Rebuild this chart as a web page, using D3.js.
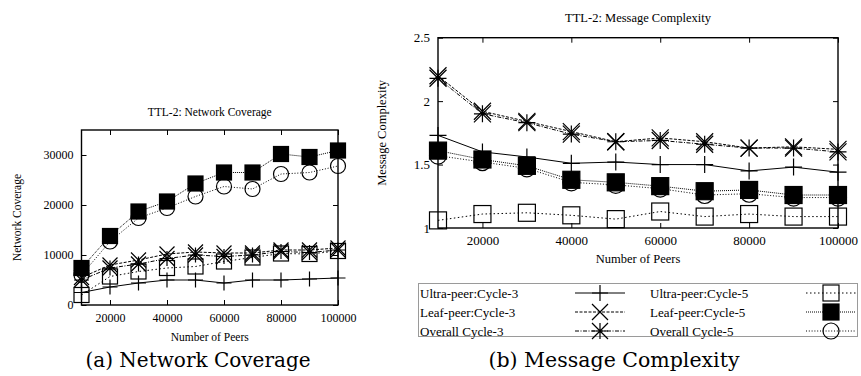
<!DOCTYPE html>
<html lang="en">
  <head>
    <meta charset="UTF-8" />
    <title>TTL-2 Network Coverage / Message Complexity</title>
    <script src="https://d3js.org/d3.v7.min.js"></script>
    <style>
      body {
        margin: 0;
        background: #fff;
      }
      svg text {
        font-family: "Liberation Serif", serif;
        fill: #000;
      }
      .caption {
        font-family: "DejaVu Serif", serif;
      }
    </style>
  </head>
  <body>
    <svg width="861" height="376"></svg>
    <script>
      // number of peers (x axis, both panels)
      const peers = [10000, 20000, 30000, 40000, 50000, 60000, 70000, 80000, 90000, 100000];
      const xTicks = [20000, 40000, 60000, 80000, 100000];

      // (a) network coverage
      const covUltra3 = [2500, 3600, 4400, 5000, 5000, 4400, 5000, 5000, 5200, 5400];
      const covLeaf3 = [5500, 8000, 9000, 10200, 10600, 10400, 10400, 11000, 11000, 11400];
      const covOverall3 = [5000, 7400, 8200, 9300, 10000, 9700, 10000, 10700, 10500, 11000];
      const covUltra5 = [2000, 5700, 6700, 7400, 7700, 8700, 9500, 10300, 10200, 10800];
      const covLeaf5 = [7400, 13800, 18700, 20700, 24300, 26500, 26500, 30200, 29600, 30900];
      const covOverall5 = [6000, 12700, 17400, 19400, 21700, 23700, 23200, 26200, 26500, 27800];
      const covYTicks = [0, 10000, 20000, 30000];

      // (b) message complexity
      const msgUltra3 = [1.73, 1.6, 1.56, 1.51, 1.52, 1.5, 1.5, 1.45, 1.48, 1.44];
      const msgLeaf3 = [2.2, 1.92, 1.84, 1.76, 1.68, 1.71, 1.68, 1.63, 1.64, 1.62];
      const msgOverall3 = [2.18, 1.9, 1.83, 1.74, 1.68, 1.69, 1.66, 1.63, 1.63, 1.6];
      const msgUltra5 = [1.06, 1.11, 1.12, 1.1, 1.07, 1.13, 1.09, 1.11, 1.09, 1.09];
      const msgLeaf5 = [1.61, 1.54, 1.49, 1.38, 1.36, 1.33, 1.29, 1.3, 1.26, 1.26];
      const msgOverall5 = [1.57, 1.52, 1.47, 1.36, 1.34, 1.31, 1.26, 1.27, 1.24, 1.24];
      const msgYTicks = [1, 1.5, 2, 2.5];

      const seriesNames = [
        "Ultra-peer:Cycle-3",
        "Leaf-peer:Cycle-3",
        "Overall Cycle-3",
        "Ultra-peer:Cycle-5",
        "Leaf-peer:Cycle-5",
        "Overall Cycle-5",
      ];
      // line style + point type for each series (gnuplot look)
      const styles = [
        { dash: null, mark: "plus" },
        { dash: "3,1.5", mark: "cross" },
        { dash: "4,1.5,1,1.5", mark: "star" },
        { dash: "1.5,2.5", mark: "box" },
        { dash: "1,1", mark: "fbox" },
        { dash: "1,1.8", mark: "circle" },
      ];

      const svg = d3.select("svg");

      function drawMark(g, type, x, y, s) {
        const h = s / 2;
        const st = { stroke: "#000", "stroke-width": 1.2, fill: "none" };
        let el;
        if (type === "plus") {
          el = g.append("path").attr("d", `M${x - h},${y}H${x + h}M${x},${y - h}V${y + h}`);
        } else if (type === "cross") {
          el = g.append("path").attr("d", `M${x - h},${y - h}L${x + h},${y + h}M${x - h},${y + h}L${x + h},${y - h}`);
        } else if (type === "star") {
          el = g
            .append("path")
            .attr("d", `M${x - h},${y - h}L${x + h},${y + h}M${x - h},${y + h}L${x + h},${y - h}M${x - h},${y}H${x + h}M${x},${y - h}V${y + h}`);
        } else if (type === "box") {
          el = g.append("rect").attr("x", x - h).attr("y", y - h).attr("width", s).attr("height", s);
        } else if (type === "fbox") {
          el = g.append("rect").attr("x", x - h).attr("y", y - h).attr("width", s).attr("height", s);
          st.fill = "#000";
        } else {
          el = g.append("circle").attr("cx", x).attr("cy", y).attr("r", h);
        }
        Object.entries(st).forEach(([k, v]) => el.attr(k, v));
      }

      function panel(cfg) {
        const x = d3.scaleLinear().domain([10000, 100000]).range([cfg.left, cfg.right]);
        const y = d3.scaleLinear().domain(cfg.yDomain).range([cfg.bottom, cfg.top]);
        const g = svg.append("g");
        const fs = cfg.fontSize + "px";

        // axes with inward ticks, mirrored on top/right
        const bottom = g
          .append("g")
          .attr("transform", `translate(0,${cfg.bottom})`)
          .call(d3.axisBottom(x).tickValues(xTicks).tickFormat(d3.format("d")).tickSizeInner(-5).tickSizeOuter(0).tickPadding(cfg.xPad));
        const top = g
          .append("g")
          .attr("transform", `translate(0,${cfg.top})`)
          .call(d3.axisTop(x).tickValues(xTicks).tickFormat("").tickSizeInner(-5).tickSizeOuter(0));
        const left = g
          .append("g")
          .attr("transform", `translate(${cfg.left},0)`)
          .call(d3.axisLeft(y).tickValues(cfg.yTicks).tickFormat(cfg.yFormat).tickSizeInner(-5).tickSizeOuter(0).tickPadding(cfg.yPad));
        const right = g
          .append("g")
          .attr("transform", `translate(${cfg.right},0)`)
          .call(d3.axisRight(y).tickValues(cfg.yTicks).tickFormat("").tickSizeInner(-5).tickSizeOuter(0));
        [bottom, top, left, right].forEach((a) => {
          a.select(".domain").remove();
          a.selectAll("line").attr("stroke", "#000");
          a.selectAll("text").style("font-size", fs).style("font-family", "Liberation Serif");
        });

        g.append("rect")
          .attr("x", cfg.left)
          .attr("y", cfg.top)
          .attr("width", cfg.right - cfg.left)
          .attr("height", cfg.bottom - cfg.top)
          .attr("fill", "none")
          .attr("stroke", "#000")
          .attr("stroke-width", 1.4);

        const line = d3
          .line()
          .x((d, i) => x(peers[i]))
          .y((d) => y(d));

        cfg.series.forEach((vals, k) => {
          const s = styles[k];
          g.append("path")
            .attr("d", line(vals))
            .attr("fill", "none")
            .attr("stroke", "#000")
            .attr("stroke-width", 1)
            .attr("stroke-dasharray", s.dash);
          const mg = g.append("g");
          vals.forEach((v, i) => drawMark(mg, s.mark, x(peers[i]), y(v), cfg.markSize));
        });

        g.append("text")
          .attr("x", (cfg.left + cfg.right) / 2)
          .attr("y", cfg.top - cfg.titleGap)
          .attr("text-anchor", "middle")
          .style("font-size", cfg.titleSize + "px")
          .text(cfg.title);
        g.append("text")
          .attr("x", (cfg.left + cfg.right) / 2)
          .attr("y", cfg.xLabelY)
          .attr("text-anchor", "middle")
          .style("font-size", cfg.titleSize + "px")
          .text("Number of Peers");
        g.append("text")
          .attr("transform", `translate(${cfg.yLabelX},${(cfg.top + cfg.bottom) / 2}) rotate(-90)`)
          .attr("text-anchor", "middle")
          .style("font-size", cfg.titleSize + "px")
          .text(cfg.yLabel);
      }

      panel({
        left: 81.5,
        right: 338,
        top: 130,
        bottom: 305,
        yDomain: [0, 35000],
        yTicks: covYTicks,
        yFormat: d3.format("d"),
        fontSize: 12,
        titleSize: 11.5,
        xPad: 8,
        yPad: 8,
        markSize: 15,
        titleGap: 14,
        xLabelY: 341,
        yLabelX: 21,
        title: "TTL-2: Network Coverage",
        yLabel: "Network Coverage",
        series: [covUltra3, covLeaf3, covOverall3, covUltra5, covLeaf5, covOverall5],
      });

      panel({
        left: 438,
        right: 838,
        top: 37.7,
        bottom: 228,
        yDomain: [1, 2.5],
        yTicks: msgYTicks,
        yFormat: (d) => String(d),
        fontSize: 13,
        titleSize: 12.5,
        xPad: 8,
        yPad: 8,
        markSize: 17,
        titleGap: 16,
        xLabelY: 263,
        yLabelX: 386,
        title: "TTL-2: Message Complexity",
        yLabel: "Message Complexity",
        series: [msgUltra3, msgLeaf3, msgOverall3, msgUltra5, msgLeaf5, msgOverall5],
      });

      // legend box below panel (b)
      const leg = svg.append("g");
      leg.append("rect")
        .attr("x", 418.5)
        .attr("y", 283.5)
        .attr("width", 439)
        .attr("height", 53)
        .attr("fill", "none")
        .attr("stroke", "#000")
        .attr("stroke-width", 0.8)
        .attr("stroke-dasharray", "1,1");
      const legRows = [293, 312, 331];
      seriesNames.forEach((name, k) => {
        const col = Math.floor(k / 3);
        const ry = legRows[k % 3];
        const tx = col === 0 ? 420 : 650;
        const lx0 = col === 0 ? 575 : 806;
        const lx1 = col === 0 ? 625 : 856;
        leg.append("text")
          .attr("x", tx)
          .attr("y", ry)
          .attr("dy", "0.35em")
          .style("font-size", "13px")
          .text(name);
        leg.append("line")
          .attr("x1", lx0)
          .attr("x2", lx1)
          .attr("y1", ry)
          .attr("y2", ry)
          .attr("stroke", "#000")
          .attr("stroke-width", 1)
          .attr("stroke-dasharray", styles[k].dash);
        drawMark(leg, styles[k].mark, (lx0 + lx1) / 2, ry, 16);
      });

      // sub-figure captions
      svg.append("text")
        .attr("class", "caption")
        .attr("x", 198)
        .attr("y", 367)
        .attr("text-anchor", "middle")
        .style("font-size", "20px")
        .style("font-family", "DejaVu Serif")
        .text("(a) Network Coverage");
      svg.append("text")
        .attr("class", "caption")
        .attr("x", 614)
        .attr("y", 367)
        .attr("text-anchor", "middle")
        .style("font-size", "20.5px")
        .style("font-family", "DejaVu Serif")
        .text("(b) Message Complexity");
    </script>
  </body>
</html>
